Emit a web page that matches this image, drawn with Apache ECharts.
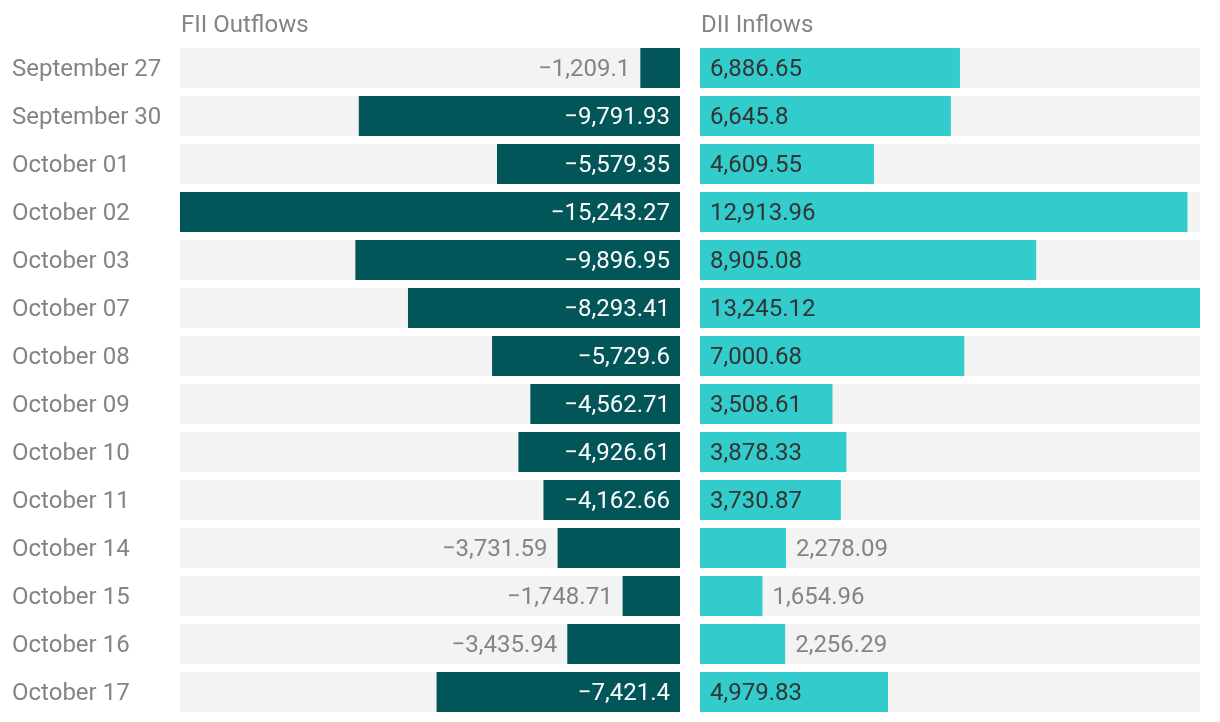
<!DOCTYPE html>
<html>
<head>
<meta charset="utf-8">
<script src="https://cdn.jsdelivr.net/npm/echarts@6/dist/echarts.min.js"></script>
<style>
html,body{margin:0;padding:0;background:#fff;}
#c{width:1220px;height:722px;}
</style>
</head>
<body>
<div id="c"></div>
<script>
const categories = ["September 27","September 30","October 01","October 02","October 03","October 07","October 08","October 09","October 10","October 11","October 14","October 15","October 16","October 17"];
const fiiOutflows = [-1209.1,-9791.93,-5579.35,-15243.27,-9896.95,-8293.41,-5729.6,-4562.71,-4926.61,-4162.66,-3731.59,-1748.71,-3435.94,-7421.4];
const diiInflows = [6886.65,6645.8,4609.55,12913.96,8905.08,13245.12,7000.68,3508.61,3878.33,3730.87,2278.09,1654.96,2256.29,4979.83];
const panelTitles = ["FII Outflows","DII Inflows"];

const FONT = 'Roboto';
const FS = 24;
const PANEL_W = 500;
const INSIDE_MIN_PX = 125;

function fmt(v){
  const s = Math.abs(v).toLocaleString('en-US',{maximumFractionDigits:2});
  return (v<0?'\u2212':'') + s;
}

const fiiMin = Math.min(...fiiOutflows);
const diiMax = Math.max(...diiInflows);

const fiiData = fiiOutflows.map(v=>{
  const inside = Math.abs(v)/Math.abs(fiiMin)*PANEL_W > INSIDE_MIN_PX;
  return {value:v, label:{position: inside?'insideRight':'left', color: inside?'#ffffff':'#848484', distance:10}};
});
const diiData = diiInflows.map(v=>{
  const inside = v/diiMax*PANEL_W > INSIDE_MIN_PX;
  return {value:v, label:{position: inside?'insideLeft':'right', color: inside?'#333333':'#848484', distance:10}};
});

const chart = echarts.init(document.getElementById('c'), null, {renderer:'canvas'});
const yBase = {
  type:'category', data:categories, inverse:true,
  axisLine:{show:false}, axisTick:{show:false}, splitLine:{show:false}
};
chart.setOption({
  animation:false,
  textStyle:{fontFamily:FONT},
  title:[
    {text:panelTitles[0], left:181, top:14, textStyle:{fontFamily:FONT,fontSize:FS,fontWeight:'normal',color:'#848484'}, padding:0},
    {text:panelTitles[1], left:701, top:14, textStyle:{fontFamily:FONT,fontSize:FS,fontWeight:'normal',color:'#848484'}, padding:0}
  ],
  grid:[
    {left:180, width:PANEL_W, top:44, height:672},
    {left:700, width:PANEL_W, top:44, height:672}
  ],
  xAxis:[
    {gridIndex:0, type:'value', min:fiiMin, max:0, show:false},
    {gridIndex:1, type:'value', min:0, max:diiMax, show:false}
  ],
  yAxis:[
    Object.assign({gridIndex:0, axisLabel:{show:true, align:'left', margin:168,
      formatter:v=>'{a|'+v+'}',
      rich:{a:{fontFamily:FONT, fontSize:FS, color:'#848484', padding:[4,0,0,0]}}}}, yBase),
    Object.assign({gridIndex:1, axisLabel:{show:false}}, yBase)
  ],
  series:[
    {type:'bar', xAxisIndex:0, yAxisIndex:0, data:fiiData, barWidth:40,
     itemStyle:{color:'#02565a'}, showBackground:true, backgroundStyle:{color:'#f3f3f3'},
     label:{show:true, fontFamily:FONT, fontSize:FS, offset:[0,2], formatter:p=>fmt(p.value)}},
    {type:'bar', xAxisIndex:1, yAxisIndex:1, data:diiData, barWidth:40,
     itemStyle:{color:'#33cccc'}, showBackground:true, backgroundStyle:{color:'#f3f3f3'},
     label:{show:true, fontFamily:FONT, fontSize:FS, offset:[0,2], formatter:p=>fmt(p.value)}}
  ]
});
</script>
</body>
</html>
